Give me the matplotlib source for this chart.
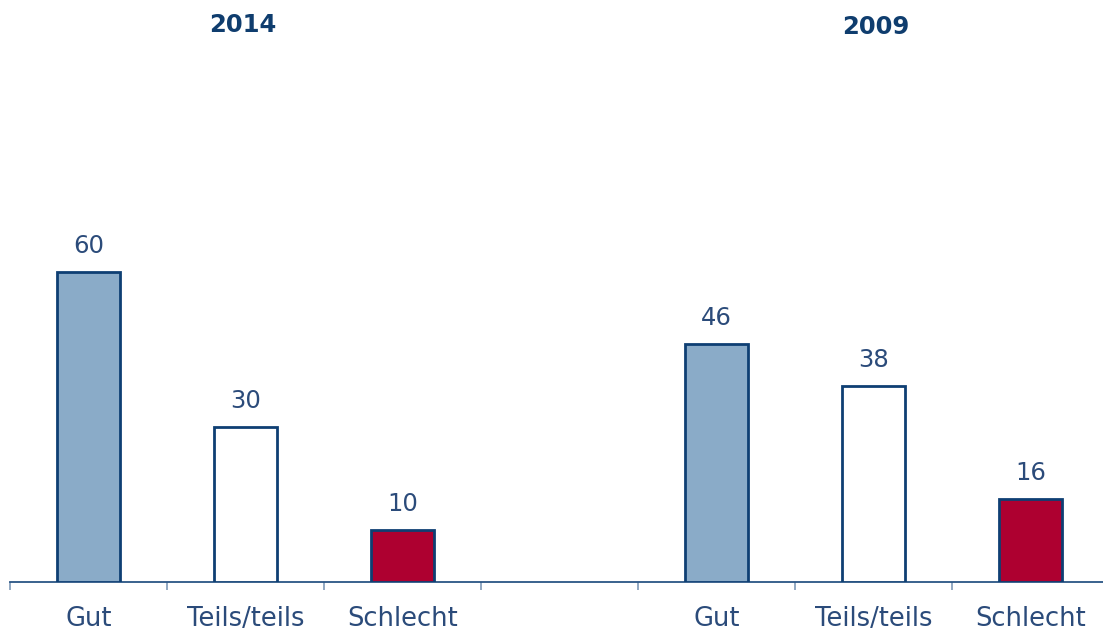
import matplotlib
matplotlib.use("Agg")
import matplotlib.pyplot as plt
import numpy as np

# Survey answers for two years, shown side by side with a gap slot between them
years = ["2014", "2009"]
categories = ["Gut", "Teils/teils", "Schlecht"]
values_2014 = [60, 30, 10]
values_2009 = [46, 38, 16]

fill_colors = ["#8AABC8", "#FFFFFF", "#AE0030"]
edge_color = "#0E3F73"
text_color = "#2B4B7A"
title_color = "#0F3D6E"

W, H = 1103, 635
fig = plt.figure(figsize=(W / 100, H / 100), dpi=100)
plt.rcParams["font.family"] = ["DejaVu Sans"]

# axes positioned in pixel terms: baseline at y=582, left edge at x=10
slot_px = 157.0
px_per_unit = 5.17
left_px, base_px = 10, 582
ymax = 100
ax = fig.add_axes([left_px / W, (H - base_px) / H, (W - left_px) / W, ymax * px_per_unit / H])

positions = [0, 1, 2, 4, 5, 6]
labels = categories + categories
values = values_2014 + values_2009
colors = fill_colors + fill_colors

ax.bar(positions, values, width=0.40, color=colors, edgecolor=edge_color, linewidth=2.0, zorder=3)

for x, v in zip(positions, values):
    ax.annotate(f"{v}", (x, v), xytext=(0, 10), textcoords="offset points",
                ha="center", va="bottom", fontsize=17.5, color=text_color)

ax.set_xlim(-0.5, -0.5 + (W - left_px) / slot_px)
ax.set_ylim(0, ymax)

ax.set_xticks(positions)
ax.set_xticklabels(labels, fontsize=18.5, color=text_color)
ax.tick_params(axis="x", which="major", length=0, pad=17)
ax.set_xticks(np.arange(-0.5, 6.0, 1.0), minor=True)
ax.tick_params(axis="x", which="minor", length=6, width=1.2, color="#7F9AB8", direction="out")
ax.set_yticks([])

for side in ["top", "right", "left"]:
    ax.spines[side].set_visible(False)
ax.spines["bottom"].set_color("#2A5585")
ax.spines["bottom"].set_linewidth(1.3)

# group titles above each block of bars
fig.text(243 / W, 1 - 25 / H, years[0], ha="center", va="center",
         fontsize=17.5, fontweight="bold", color=title_color)
fig.text(876 / W, 1 - 27 / H, years[1], ha="center", va="center",
         fontsize=17.5, fontweight="bold", color=title_color)

fig.savefig("out.png", dpi=100)
